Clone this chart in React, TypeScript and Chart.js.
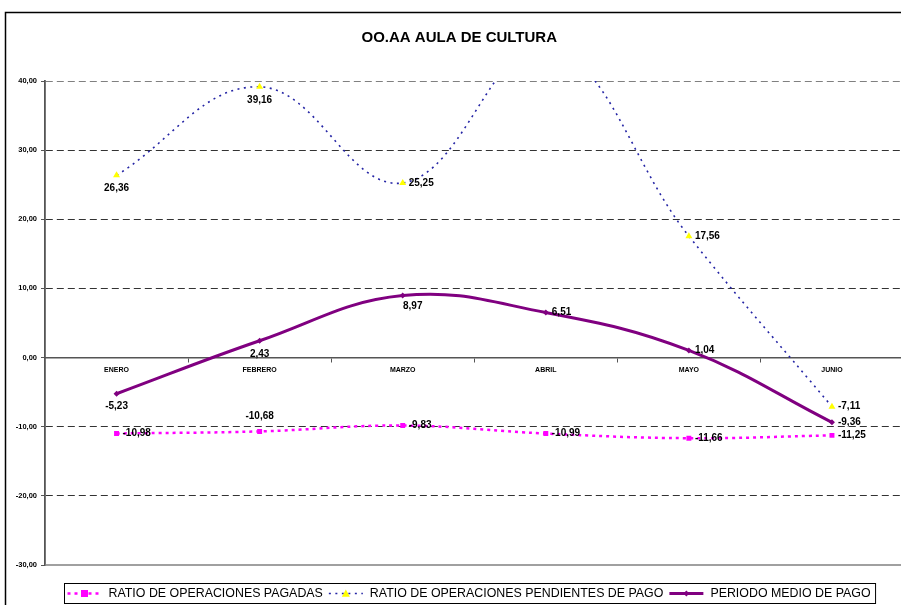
import React, { useEffect, useRef } from 'react';
import { Chart, registerables } from 'chart.js';

Chart.register(...registerables);

// ---- data ----
const chartTitle = 'OO.AA AULA DE CULTURA';
const categories = ['ENERO', 'FEBRERO', 'MARZO', 'ABRIL', 'MAYO', 'JUNIO'];
const seriesNames = [
  'RATIO DE OPERACIONES PAGADAS',
  'RATIO DE OPERACIONES PENDIENTES DE PAGO',
  'PERIODO MEDIO DE PAGO',
];
const pagadas = [-10.98, -10.68, -9.83, -10.99, -11.66, -11.25];
const pendientes = [26.36, 39.16, 25.25, 45.0, 17.56, -7.11];
const periodoMedio = [-5.23, 2.43, 8.97, 6.51, 1.04, -9.36];
const yMin = -30;
const yMax = 40;
const yStep = 10;

// ---- label placement (style) ----
const labelPlacement: string[][] = [
  ['right', 'above', 'right', 'right', 'right', 'right'],
  ['below', 'below', 'right', 'right', 'right', 'right'],
  ['below', 'below', 'belowRight', 'right', 'right', 'right'],
];

const FONT = '"Liberation Sans", Arial, sans-serif';
const fmt = (v: number) => v.toFixed(2).replace('.', ',');

function drawMarker(ctx: CanvasRenderingContext2D, style: string, r: number, x: number, y: number) {
  ctx.beginPath();
  if (style === 'rect') {
    ctx.rect(x - r, y - r, 2 * r, 2 * r);
  } else if (style === 'triangle') {
    ctx.moveTo(x, y - r);
    ctx.lineTo(x + r, y + r * 0.8);
    ctx.lineTo(x - r, y + r * 0.8);
    ctx.closePath();
  } else {
    ctx.moveTo(x, y - r);
    ctx.lineTo(x + r, y);
    ctx.lineTo(x, y + r);
    ctx.lineTo(x - r, y);
    ctx.closePath();
  }
  ctx.fill();
}

const dataLabelsPlugin = {
  id: 'dataLabels',
  afterDatasetsDraw(chart: any) {
    const ctx = chart.ctx;
    const area = chart.chartArea;
    ctx.save();
    ctx.font = `bold 10px ${FONT}`;
    ctx.fillStyle = '#000';
    chart.data.datasets.forEach((ds: any, i: number) => {
      const meta = chart.getDatasetMeta(i);
      meta.data.forEach((pt: any, j: number) => {
        const v = ds.data[j];
        const x = pt.x;
        const y = pt.y;
        if (y < area.top - 1 || y > area.bottom + 1) return;
        const pos = labelPlacement[i][j];
        ctx.textBaseline = 'middle';
        if (pos === 'right') {
          ctx.textAlign = 'left';
          ctx.fillText(fmt(v), x + 6, y);
        } else if (pos === 'below') {
          ctx.textAlign = 'center';
          ctx.fillText(fmt(v), x, y + 13);
        } else if (pos === 'belowRight') {
          ctx.textAlign = 'center';
          ctx.fillText(fmt(v), x + 10, y + 11);
        } else {
          ctx.textAlign = 'center';
          ctx.fillText(fmt(v), x, y - 15);
        }
      });
    });
    ctx.restore();
  },
};

const framePlugin = {
  id: 'frame',
  afterDraw(chart: any) {
    const ctx = chart.ctx;
    const area = chart.chartArea;
    ctx.save();
    ctx.strokeStyle = '#808080';
    ctx.lineWidth = 1.5;
    ctx.beginPath();
    ctx.moveTo(area.left, area.bottom);
    ctx.lineTo(area.right, area.bottom);
    ctx.stroke();
    ctx.strokeStyle = '#000';
    ctx.lineWidth = 1.5;
    ctx.strokeRect(5.5, 12.5, 2000, 2000);
    ctx.restore();
  },
};

const legendPlugin = {
  id: 'customLegend',
  afterDraw(chart: any) {
    const ctx = chart.ctx;
    ctx.save();
    ctx.font = `12.4px ${FONT}`;
    const top = 583.5;
    const h = 20;
    const left = 64.5;
    const sampleW = 34;
    const gap = 7;
    const cy = top + h / 2;
    let x = left + 3;
    chart.data.datasets.forEach((ds: any, i: number) => {
      ctx.save();
      ctx.strokeStyle = ds.borderColor;
      ctx.lineWidth = ds.borderWidth;
      ctx.setLineDash(ds.borderDash || []);
      ctx.beginPath();
      ctx.moveTo(x, cy);
      ctx.lineTo(x + sampleW, cy);
      ctx.stroke();
      ctx.restore();
      ctx.save();
      ctx.fillStyle = ds.pointBackgroundColor;
      drawMarker(ctx, ds.pointStyle, ds.pointRadius, x + sampleW / 2, cy);
      ctx.restore();
      x += sampleW + gap;
      ctx.fillStyle = '#000';
      ctx.textAlign = 'left';
      ctx.textBaseline = 'middle';
      ctx.fillText(ds.label, x, cy + 0.5);
      x += ctx.measureText(ds.label).width + (i < chart.data.datasets.length - 1 ? 6 : 5);
    });
    ctx.strokeStyle = '#000';
    ctx.lineWidth = 1;
    ctx.strokeRect(left, top, x - left, h);
    ctx.restore();
  },
};

export default function App() {
  const canvasRef = useRef<HTMLCanvasElement | null>(null);

  useEffect(() => {
    if (!canvasRef.current) return;
    const chart = new Chart(canvasRef.current, {
      type: 'line',
      data: {
        labels: categories,
        datasets: [
          {
            label: seriesNames[0],
            data: pagadas,
            borderColor: '#FF00FF',
            backgroundColor: '#FF00FF',
            borderWidth: 2.5,
            borderDash: [3, 4],
            pointStyle: 'rect',
            pointRadius: 3.5,
            pointBackgroundColor: '#FF00FF',
            pointBorderColor: '#FF00FF',
            pointBorderWidth: 0,
            tension: 0.4,
            fill: false,
          },
          {
            label: seriesNames[1],
            data: pendientes,
            borderColor: '#2525A5',
            backgroundColor: '#FFFF00',
            borderWidth: 1.6,
            borderDash: [2, 4.5],
            pointStyle: 'triangle',
            pointRadius: 4,
            pointBackgroundColor: '#FFFF00',
            pointBorderColor: '#FFFF00',
            pointBorderWidth: 0,
            tension: 0.4,
            fill: false,
          },
          {
            label: seriesNames[2],
            data: periodoMedio,
            borderColor: '#800080',
            backgroundColor: '#800080',
            borderWidth: 3,
            borderDash: [],
            pointStyle: 'rectRot',
            pointRadius: 3,
            pointBackgroundColor: '#800080',
            pointBorderColor: '#800080',
            pointBorderWidth: 0,
            tension: 0.4,
            fill: false,
          },
        ] as any,
      },
      options: {
        responsive: false,
        animation: false,
        events: [],
        layout: { padding: { top: 12, left: 15, right: 6.5, bottom: 40 } },
        plugins: {
          legend: { display: false },
          tooltip: { enabled: false },
          title: {
            display: true,
            text: chartTitle,
            color: '#000',
            font: { family: FONT, size: 15, weight: 'bold' },
            padding: { top: 17, bottom: 34 },
          },
        },
        scales: {
          x: {
            type: 'category',
            position: { y: 0 } as any,
            offset: true,
            grid: {
              offset: true,
              drawOnChartArea: false,
              drawTicks: true,
              tickLength: 4,
              color: '#555',
              tickColor: '#555',
            },
            border: { display: true, color: '#555', width: 1.5 },
            ticks: {
              color: '#000',
              font: { family: FONT, size: 7, weight: 'bold' },
              padding: 4,
              autoSkip: false,
              maxRotation: 0,
            },
          },
          y: {
            min: yMin,
            max: yMax,
            afterFit: (scale: any) => {
              scale.width = 30;
            },
            grid: {
              drawTicks: true,
              tickLength: 4,
              tickColor: '#555',
              color: (c: any) => {
                const v = c.tick ? c.tick.value : null;
                if (v === 0 || v === yMin) return 'rgba(0,0,0,0)';
                if (v === yMax) return '#808080';
                return '#333';
              },
            },
            border: { display: true, color: '#555', width: 1.8, dash: [7, 4] },
            ticks: {
              stepSize: yStep,
              color: '#000',
              font: { family: FONT, size: 7.5, weight: 'bold' },
              padding: 4,
              callback: (v: any) => fmt(Number(v)),
            },
          },
        },
      },
      plugins: [dataLabelsPlugin, framePlugin, legendPlugin],
    } as any);
    return () => chart.destroy();
  }, []);

  return (
    <div
      style={{
        position: 'absolute',
        left: 0,
        top: 0,
        width: 901,
        height: 605,
        overflow: 'hidden',
        background: '#fff',
      }}
    >
      <canvas ref={canvasRef} width={910} height={605} style={{ display: 'block' }} />
    </div>
  );
}
